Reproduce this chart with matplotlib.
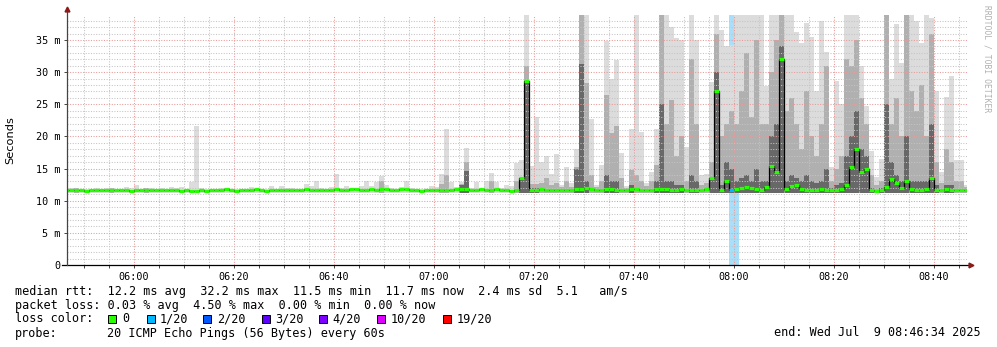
import numpy as np
import matplotlib
matplotlib.use("Agg")
import matplotlib.pyplot as plt
from matplotlib.patches import Rectangle

# minutes relative to 06:00, one sample per minute (05:46 .. 08:46)
minutes = np.arange(-14, 167)

# median rtt per minute (ms)
med = [
    11.6, 11.6, 11.7, 11.6, 11.5, 11.6, 11.6, 11.7, 11.6, 11.6,   # -14
    11.6, 11.7, 11.6, 11.5, 11.6, 11.6, 11.7, 11.6, 11.6, 11.6,   # -4
    11.7, 11.6, 11.6, 11.5, 11.6, 11.5, 11.5, 11.6, 11.5, 11.6,   # 6
    11.6, 11.7, 11.8, 11.7, 11.5, 11.6, 11.6, 11.7, 11.8, 11.6,   # 16
    11.5, 11.6, 11.7, 11.7, 11.6, 11.6, 11.6, 11.7, 11.8, 11.7,   # 26
    11.7, 11.6, 11.7, 11.7, 11.8, 11.7, 11.7, 11.8, 11.8, 11.7,   # 36
    11.7, 11.8, 11.7, 11.8, 11.8, 11.7, 11.7, 11.8, 11.8, 11.7,   # 46
    11.6, 11.5, 11.6, 11.7, 11.7, 11.6, 11.7, 11.7, 11.8, 11.8,   # 56
    11.9, 11.7, 11.7, 11.8, 11.7, 11.7, 11.8, 11.7, 11.7, 11.5,   # 66
    11.6, 13.6, 28.6, 11.7, 11.7, 11.8, 11.7, 11.7, 11.6, 11.7,   # 76
    11.6, 11.7, 11.8, 11.9, 12.0, 11.8, 11.7, 11.7, 11.8, 11.8,   # 86
    11.7, 11.7, 11.6, 11.8, 11.9, 11.7, 11.7, 11.6, 11.8, 11.9,   # 96
    11.8, 11.7, 11.7, 11.8, 11.6, 11.6, 11.7, 11.7, 11.8, 13.6,   # 106
    27.1, 11.7, 13.1, 11.7, 11.9, 12.0, 12.2, 12.0, 11.8, 11.7,   # 116
    12.1, 15.4, 14.4, 32.0, 11.9, 12.3, 12.5, 11.9, 11.7, 11.7,   # 126
    11.7, 11.8, 11.7, 11.7, 11.7, 11.8, 12.5, 15.3, 18.0, 14.5,   # 136
    15.0, 11.6, 11.5, 11.7, 12.2, 13.4, 12.8, 12.0, 13.1, 11.8,   # 146
    11.7, 11.6, 11.8, 13.6, 11.7, 11.7, 11.8, 11.7, 11.7, 11.7,   # 156
    11.7,                                                         # 166
]

# highest ping per minute (ms), top of the light smoke
top = [
    11.9, 12.0, 12.0, 11.9, 11.8, 11.9, 12.0, 11.9, 12.0, 12.0,
    11.9, 11.9, 12.1, 12.0, 12.4, 11.9, 11.9, 12.0, 11.9, 12.0,
    11.9, 12.1, 12.0, 12.1, 11.9, 12.9, 21.6, 12.0, 11.9, 11.8,
    11.9, 12.0, 12.0, 11.9, 11.9, 11.9, 11.9, 12.1, 11.9, 11.9,
    11.9, 12.3, 11.9, 12.3, 12.0, 12.0, 11.9, 11.9, 12.6, 12.3,
    13.0, 12.0, 11.9, 12.1, 14.2, 12.0, 12.3, 11.9, 12.0, 12.3,
    13.0, 12.3, 12.9, 13.9, 12.4, 12.0, 11.9, 12.1, 13.0, 12.0,
    11.9, 11.9, 11.9, 12.3, 12.1, 14.2, 21.1, 12.9, 12.1, 12.9,
    18.2, 12.0, 12.9, 12.0, 13.1, 14.3, 12.9, 12.0, 12.4, 12.3,
    15.8, 16.3, 40.0, 15.4, 23.0, 16.0, 16.9, 14.2, 17.2, 12.5,
    15.3, 12.7, 18.0, 40.0, 40.0, 22.7, 12.5, 15.6, 34.9, 28.9,
    31.9, 17.4, 12.3, 21.1, 40.0, 20.7, 12.7, 14.5, 21.1, 40.0,
    40.0, 37.0, 35.3, 35.0, 18.4, 40.0, 35.0, 14.0, 14.2, 28.4,
    40.0, 36.5, 34.0, 34.2, 40.0, 40.0, 40.0, 40.0, 40.0, 40.0,
    27.8, 40.0, 40.0, 40.0, 40.0, 40.0, 36.3, 34.5, 37.6, 35.5,
    27.0, 37.9, 33.2, 15.3, 28.7, 25.1, 40.0, 40.0, 40.0, 31.0,
    24.7, 17.8, 13.7, 16.5, 40.0, 28.9, 37.5, 31.5, 40.0, 40.0,
    37.9, 34.6, 40.0, 38.5, 27.0, 14.5, 26.2, 29.4, 16.3, 16.3,
    12.5,
]

# top of the medium grey smoke (0 = none)
mid = [
    0, 0, 12.0, 0, 0, 0, 0, 0, 0, 12.0,
    0, 0, 0, 0, 0, 0, 12.0, 0, 0, 0,
    0, 0, 0, 0, 0, 0, 0, 0, 0, 0,
    0, 0, 0, 0, 0, 0, 0, 0, 0, 0,
    0, 0, 0, 0, 0, 0, 0, 0, 0, 0,
    0, 0, 0, 0, 0, 0, 0, 0, 0, 0,
    0, 0, 0, 13.0, 0, 0, 0, 0, 0, 0,
    0, 0, 0, 0, 0, 12.6, 14.0, 0, 0, 12.6,
    16.0, 0, 0, 0, 0, 13.0, 0, 0, 0, 0,
    13.0, 13.0, 31.0, 12.6, 12.6, 12.8, 13.5, 12.5, 12.8, 12.2,
    13.0, 12.2, 15.3, 40.0, 28.3, 14.0, 12.2, 13.0, 26.4, 20.5,
    21.6, 13.5, 12.0, 14.8, 14.0, 13.0, 12.3, 13.0, 15.6, 40.0,
    22.0, 25.6, 17.0, 20.0, 13.0, 32.0, 22.0, 12.5, 12.8, 16.0,
    36.0, 20.0, 22.0, 24.0, 22.0, 27.0, 33.0, 23.0, 35.0, 22.0,
    22.0, 30.0, 35.0, 40.0, 24.0, 26.0, 22.0, 18.0, 27.0, 20.0,
    17.0, 22.0, 31.0, 13.0, 15.0, 17.0, 32.0, 31.0, 35.0, 26.0,
    22.0, 14.0, 12.5, 13.0, 40.0, 22.0, 26.0, 20.0, 40.0, 27.0,
    24.0, 28.0, 20.0, 36.0, 16.0, 12.8, 18.0, 16.0, 13.0, 13.0,
    12.2,
]

# top of the dark grey smoke (0 = none)
dark = [
    0, 0, 0, 0, 0, 0, 0, 0, 0, 0,
    0, 0, 0, 0, 0, 0, 0, 0, 0, 0,
    0, 0, 0, 0, 0, 0, 0, 0, 0, 0,
    0, 0, 0, 0, 0, 0, 0, 0, 0, 0,
    0, 0, 0, 0, 0, 0, 0, 0, 0, 0,
    0, 0, 0, 0, 0, 0, 0, 0, 0, 0,
    0, 0, 0, 0, 0, 0, 0, 0, 0, 0,
    0, 0, 0, 0, 0, 0, 0, 0, 0, 12.4,
    14.6, 0, 0, 0, 0, 0, 0, 0, 0, 0,
    0, 13.6, 28.6, 12.0, 12.0, 0, 0, 0, 0, 0,
    0, 0, 15.0, 31.3, 13.0, 0, 0, 0, 14.0, 13.0,
    13.0, 0, 0, 12.5, 0, 0, 0, 0, 13.0, 25.0,
    13.0, 13.0, 12.5, 12.5, 0, 14.0, 13.0, 0, 0, 13.6,
    30.0, 12.5, 16.0, 15.0, 13.0, 13.5, 14.0, 13.0, 15.0, 13.0,
    13.0, 20.0, 22.0, 34.0, 13.0, 14.0, 13.5, 13.0, 14.0, 13.0,
    12.8, 13.0, 15.0, 12.0, 12.5, 12.8, 17.0, 20.0, 24.0, 18.0,
    17.0, 12.0, 0, 12.0, 25.0, 16.0, 14.0, 13.0, 20.0, 13.0,
    13.0, 13.0, 13.0, 22.0, 12.5, 0, 12.5, 12.5, 0, 0,
    0,
]

# packet loss (minute, lost pings of 20)
loss_min = [119]
loss_cnt = [1]

ytick_vals = [0, 5, 10, 15, 20, 25, 30, 35]
ytick_labels = ["0", "5 m", "10 m", "15 m", "20 m", "25 m", "30 m", "35 m"]
xtick_vals = [0, 20, 40, 60, 80, 100, 120, 140, 160]
xtick_labels = ["06:00", "06:20", "06:40", "07:00", "07:20", "07:40", "08:00", "08:20", "08:40"]

loss_labels = ["0", "1/20", "2/20", "3/20", "4/20", "10/20", "19/20"]
loss_colors = ["#26ff00", "#00b8ff", "#0059ff", "#5e00ff", "#7e00ff", "#dd00ff", "#ff0000"]

W, H = 997, 347
fig = plt.figure(figsize=(W / 100, H / 100), dpi=100)
fig.patch.set_facecolor("white")

def fx(px):
    return px / W

def fy(py):
    return 1 - py / H

ax = fig.add_axes([fx(67), fy(265), (967 - 67) / W, (265 - 15) / H])
ax.set_xlim(-13.4, 166.6)
ax.set_ylim(0, 38.9)

med = np.array(med)
top = np.array(top)
mid = np.array(mid)
dark = np.array(dark)
floor = 11.2

# loss background
for m, n in zip(loss_min, loss_cnt):
    ax.axvspan(m, m + 2, color="#a9dff9", lw=0, zorder=0.5)

# smoke layers
for lvl, col in [(top, "#dcdcdc"), (mid, "#b0b0b0"), (dark, "#686868")]:
    h = np.where(lvl > floor, lvl - floor, 0)
    ax.bar(minutes, h, bottom=floor, width=1, align="edge", color=col, lw=0, zorder=1)

# median line
ax.step(np.append(minutes, minutes[-1] + 1), np.append(med, med[-1]), where="post",
        color="black", lw=0.9, zorder=3)
cols = ["#26ff00"] * len(minutes)
for m, n in zip(loss_min, loss_cnt):
    cols[m - minutes[0]] = loss_colors[1] if n == 1 else loss_colors[2]
ax.hlines(med, minutes, minutes + 1, colors=cols, lw=2.3, zorder=4)

# grid
ax.set_xticks(xtick_vals)
ax.set_xticklabels(xtick_labels)
ax.set_xticks(np.arange(-10, 167, 5), minor=True)
ax.set_yticks(ytick_vals)
ax.set_yticklabels(ytick_labels)
ax.set_yticks(np.arange(0, 39, 1), minor=True)
ax.set_axisbelow(False)
ax.grid(which="minor", color="#c4c4c4", lw=0.75, ls=(0, (1, 1.5)))
ax.grid(which="major", color="#e79a9a", lw=0.75, ls=(0, (1, 1.5)))
for gl in ax.get_xgridlines() + ax.get_ygridlines():
    gl.set_zorder(2.5)

mono = "DejaVu Sans Mono"
ax.tick_params(which="both", direction="out", length=2, width=0.7, color="#444444",
               labelsize=7.3, pad=3)
ax.tick_params(axis="y", which="minor", length=0)
for lab in ax.get_xticklabels() + ax.get_yticklabels():
    lab.set_fontfamily(mono)
for s in ["top", "right", "left", "bottom"]:
    ax.spines[s].set_visible(False)

# axes with arrows
ax.plot([-14.4, 167.0], [0, 0], color="black", lw=0.9, clip_on=False, zorder=5)
ax.plot([-13.4, -13.4], [0, 39.6], color="#444444", lw=0.9, clip_on=False, zorder=5)
ax.plot([167.4], [0], marker=">", color="#8b1a1a", ms=3.5, clip_on=False, zorder=6)
ax.plot([-13.4], [39.8], marker="^", color="#8b1a1a", ms=3.5, clip_on=False, zorder=6)

fig.text(fx(10), fy(140), "Seconds", rotation=90, ha="center", va="center",
         fontsize=8.2, family="DejaVu Sans")
fig.text(fx(987), fy(5), "RRDTOOL / TOBI OETIKER", rotation=270, ha="center", va="top",
         fontsize=5.8, family=mono, color="#b0b0b0")

# legend
fs = 8.5
fig.text(fx(14.5), fy(291),
         "median rtt:  12.2 ms avg  32.2 ms max  11.5 ms min  11.7 ms now  2.4 ms sd  5.1   am/s",
         family=mono, fontsize=fs, va="center")
fig.text(fx(14.5), fy(305),
         "packet loss: 0.03 % avg  4.50 % max  0.00 % min  0.00 % now",
         family=mono, fontsize=fs, va="center")
fig.text(fx(14.5), fy(319), "loss color:", family=mono, fontsize=fs, va="center")
box_x = [108, 147, 203, 262, 319, 377, 443]
lab_x = [122, 160, 217, 275, 332, 391, 457]
for bx, lx, lab, col in zip(box_x, lab_x, loss_labels, loss_colors):
    fig.patches.append(Rectangle((fx(bx), fy(323)), 8 / W, 8 / H, transform=fig.transFigure,
                                 facecolor=col, edgecolor="black", lw=0.7))
    fig.text(fx(lx), fy(319), lab, family=mono, fontsize=fs, va="center")
fig.text(fx(14.5), fy(333), "probe:", family=mono, fontsize=fs, va="center")
fig.text(fx(107), fy(333), "20 ICMP Echo Pings (56 Bytes) every 60s",
         family=mono, fontsize=fs, va="center")
fig.text(fx(981), fy(333), "end: Wed Jul  9 08:46:34 2025",
         family=mono, fontsize=fs, va="center", ha="right")

fig.savefig("out.png", dpi=100)
